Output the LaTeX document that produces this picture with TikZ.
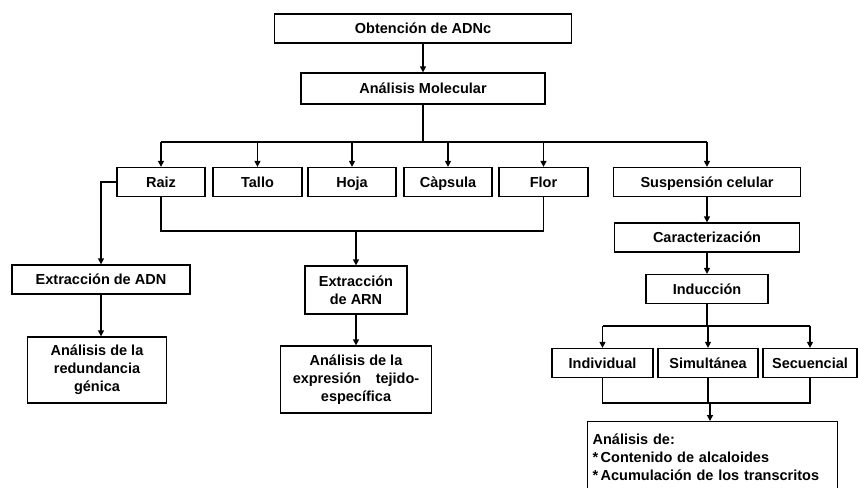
\documentclass[tikz,border=0pt]{standalone}
\usepackage{fontspec}
\setmainfont{Liberation Sans}
\usetikzlibrary{arrows.meta}

\tikzset{
  caja/.style={draw, line width=1.3pt, inner sep=2pt, minimum height=29pt,
    font=\fontsize{14.5}{18}\selectfont\bfseries, align=center},
  una/.style={text height=10.5pt, text depth=0.5pt},
  conn/.style={line width=1.3pt, -{Triangle[length=6pt,width=6pt]}},
  linea/.style={line width=1.3pt}
}

\begin{document}
\begin{tikzpicture}[x=1pt,y=-1pt]
    \useasboundingbox (0,0) rectangle (858,487);

    % Top of the chart
    \node[caja, una, minimum width=297pt] (obt) at (423,28.5) {Obtención de ADNc};
    \node[caja, una, minimum width=244pt, minimum height=31pt] (mol) at (423,88.5) {Análisis Molecular};
    \draw[conn] (obt) -- (mol);

    % Tissues and cell suspension
    \node[caja, una, minimum width=88pt] (raiz) at (161,182) {Raiz};
    \node[caja, una, minimum width=89pt] (tallo) at (257.5,182) {Tallo};
    \node[caja, una, minimum width=88pt] (hoja) at (352,182) {Hoja};
    \node[caja, una, minimum width=88pt] (capsula) at (448,182) {Càpsula};
    \node[caja, una, minimum width=89pt] (flor) at (543.5,182) {Flor};
    \node[caja, una, minimum width=187pt] (susp) at (707,182) {Suspensión celular};

    \coordinate (split) at (423,142);
    \draw[linea] (mol) -- (split);
    \draw[linea] (split -| raiz) -- (split -| susp);
    \foreach \n in {raiz,tallo,hoja,capsula,flor,susp}
        \draw[conn] (split -| \n) -- (\n);

    % Left branch: DNA
    \node[caja, una, minimum width=178pt] (adn) at (101,279.5) {Extracción de ADN};
    \node[caja, minimum width=139pt, minimum height=66pt] (red) at (97,370) {Análisis de la\\redundancia\\génica};
    \draw[conn] (raiz.west) -| (adn.north);
    \draw[conn] (adn.south) -- (adn.south |- red.north);

    % Middle branch: RNA
    \node[caja, minimum width=102pt, minimum height=48pt] (arn) at (356,290) {Extracción\\de ARN};
    \node[caja, minimum width=151pt, minimum height=67pt] (expr) at (356,379.5) {Análisis de la\\expresión\quad tejido-\\específica};
    \coordinate (union) at (356,231);
    \draw[linea] (raiz.south) |- (flor.south |- union) -- (flor.south);
    \draw[conn] (union) -- (arn);
    \draw[conn] (arn) -- (expr);

    % Right branch: cell suspension
    \node[caja, una, minimum width=185pt] (car) at (707,237.5) {Caracterización};
    \node[caja, una, minimum width=122pt] (ind) at (707,289) {Inducción};
    \draw[conn] (susp) -- (car);
    \draw[conn] (car) -- (ind);

    \node[caja, una, minimum width=101pt] (indiv) at (602.5,363) {Individual};
    \node[caja, una, minimum width=100pt] (sim) at (708,363) {Simultánea};
    \node[caja, una, minimum width=94pt] (sec) at (810,363) {Secuencial};
    \coordinate (split2) at (707,326);
    \draw[linea] (ind) -- (split2);
    \draw[linea] (split2 -| indiv) -- (split2 -| sec);
    \foreach \n in {indiv,sim,sec}
        \draw[conn] (split2 -| \n) -- (\n);

    % Final analysis box (cut at the page edge)
    \node[caja, anchor=north west, align=left, minimum width=250pt, minimum height=72pt,
          text width=240pt, inner sep=4pt] (ana) at (587,421)
        {Análisis de:\\{*}\,Contenido de alcaloides\\{*}\,Acumulación de los transcritos};
    \coordinate (union2) at (710,403);
    \draw[linea] (indiv.south) |- (sec.south |- union2) -- (sec.south);
    \draw[linea] (sim.south |- union2) -- (sim.south);
    \draw[conn] (union2) -- (union2 |- ana.north);
\end{tikzpicture}
\end{document}
